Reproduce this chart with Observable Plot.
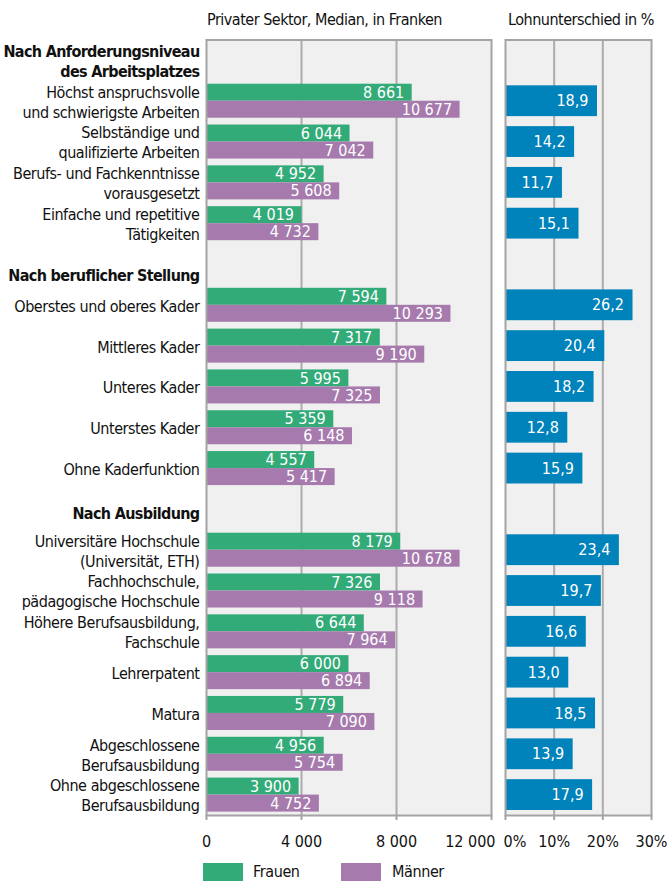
<!DOCTYPE html>
<html>
<head>
<meta charset="utf-8">
<script src="https://cdn.jsdelivr.net/npm/d3@7"></script>
<script src="https://cdn.jsdelivr.net/npm/@observablehq/plot@0.6"></script>
<style>
  html, body { margin: 0; padding: 0; background: #fff; }
  #root { position: relative; width: 668px; height: 881px; overflow: hidden;
    font-family: "DejaVu Sans Condensed", "DejaVu Sans", sans-serif; color: #111; }
  .title { position: absolute; top: 10px; font-size: 16px; line-height: 20px; white-space: nowrap; letter-spacing: -0.5px; }
  .plot { position: absolute; top: 0; }
  .sw { position: absolute; top: 863px; width: 40px; height: 18px; }
  .lg { position: absolute; top: 862px; font-size: 16px; line-height: 20px; letter-spacing: -0.4px; }
  .lab text { letter-spacing: -0.45px; }
  .hdr text { letter-spacing: -0.65px; }
</style>
</head>
<body>
<div id="root"></div>
<script>
// ---------- data ----------
const sections = ["Nach Anforderungsniveau\ndes Arbeitsplatzes", "Nach beruflicher Stellung", "Nach Ausbildung"];
const labels = [
  "Höchst anspruchsvolle\nund schwierigste Arbeiten",
  "Selbständige und\nqualifizierte Arbeiten",
  "Berufs- und Fachkenntnisse\nvorausgesetzt",
  "Einfache und repetitive\nTätigkeiten",
  "Oberstes und oberes Kader",
  "Mittleres Kader",
  "Unteres Kader",
  "Unterstes Kader",
  "Ohne Kaderfunktion",
  "Universitäre Hochschule\n(Universität, ETH)",
  "Fachhochschule,\npädagogische Hochschule",
  "Höhere Berufsausbildung,\nFachschule",
  "Lehrerpatent",
  "Matura",
  "Abgeschlossene\nBerufsausbildung",
  "Ohne abgeschlossene\nBerufsausbildung"
];
const sectionOf = [0,0,0,0, 1,1,1,1,1, 2,2,2,2,2,2,2];
const frauen = [8661, 6044, 4952, 4019, 7594, 7317, 5995, 5359, 4557, 8179, 7326, 6644, 6000, 5779, 4956, 3900];
const maenner = [10677, 7042, 5608, 4732, 10293, 9190, 7325, 6148, 5417, 10678, 9118, 7964, 6894, 7090, 5754, 4752];
const lohnunterschied = [18.9, 14.2, 11.7, 15.1, 26.2, 20.4, 18.2, 12.8, 15.9, 23.4, 19.7, 16.6, 13.0, 18.5, 13.9, 17.9];
const xTicksLeft = [0, 4000, 8000, 12000];
const xTicksRight = [0, 10, 20, 30];
const titleLeft = "Privater Sektor, Median, in Franken";
const titleRight = "Lohnunterschied in %";
const legendLabels = ["Frauen", "Männer"];

// ---------- derived tables ----------
const rows = labels.map((label, i) => ({label, f: frauen[i], m: maenner[i], gap: lohnunterschied[i], section: sectionOf[i]}));
const slots = [];
sections.forEach((s, si) => {
  slots.push("§" + si);
  rows.filter(r => r.section === si).forEach(r => slots.push(r.label));
});
const headers = sections.map((text, si) => ({key: "§" + si, text}));

// ---------- styling ----------
const GREEN = "#33ab78", PURPLE = "#a67aad", BLUE = "#0082ba";
const BG = "#eff0ef", GRID = "#acacac", FRAME = "#a4a4a4";
const FONT = '"DejaVu Sans Condensed", "DejaVu Sans", sans-serif';
const H = 855, TOP = 39.5, BOTTOM = 815;
const bw = (BOTTOM - TOP) / slots.length;
const fmtCHF = v => d3.format(",")(v).replace(/,/g, " ");
const fmtPct = v => d3.format(".1f")(v).replace(".", ",");
const headerDy = [0, 10, 3];

const yScale = {domain: slots, range: [TOP, BOTTOM], padding: 0, round: false, axis: null};
const style = {fontFamily: FONT, fontSize: "16px", color: "#111", background: "transparent", overflow: "visible"};

const root = document.getElementById("root");

// ---------- left plot ----------
const left = Plot.plot({
  width: 500, height: H,
  marginLeft: 206, marginRight: 9, marginTop: TOP, marginBottom: H - BOTTOM,
  style,
  x: {domain: [0, 12000], axis: null, round: false},
  y: yScale,
  marks: [
    Plot.frame({fill: BG}),
    Plot.ruleX(xTicksLeft.slice(1, -1), {stroke: GRID, strokeWidth: 2}),
    Plot.barX(rows, {x: "f", y: "label", fill: GREEN, insetTop: 3.4, insetBottom: bw / 2}),
    Plot.barX(rows, {x: "m", y: "label", fill: PURPLE, insetTop: bw / 2, insetBottom: 3.4}),
    Plot.frame({stroke: FRAME, strokeWidth: 2}),
    Plot.text(rows, {x: "f", y: "label", text: d => fmtCHF(d.f), textAnchor: "end", dx: -8, dy: -8.5, fill: "white"}),
    Plot.text(rows, {x: "m", y: "label", text: d => fmtCHF(d.m), textAnchor: "end", dx: -8, dy: 8.5, fill: "white"}),
    Plot.text(rows, {y: "label", text: "label", frameAnchor: "left", textAnchor: "end", dx: -7, lineHeight: 1.25, fill: "#111", className: "lab"}),
    ...headers.map((h, i) => Plot.text([h], {y: "key", text: "text", frameAnchor: "left", textAnchor: "end", dx: -7, dy: headerDy[i], lineHeight: 1.25, fontWeight: "bold", fill: "#111", className: "hdr"})),
    Plot.axisX(xTicksLeft, {tickSize: 5, stroke: FRAME, strokeWidth: 2, tickFormat: () => "", text: null, label: null}),
    Plot.axisX(xTicksLeft.slice(0, -1), {tickSize: 0, tickPadding: 20, tickFormat: fmtCHF, fill: "#111", label: null}),
    Plot.axisX(xTicksLeft.slice(-1), {tickSize: 0, tickPadding: 20, tickFormat: fmtCHF, textAnchor: "end", dx: 4, fill: "#111", label: null})
  ]
});
left.classList.add("plot");
left.style.left = "0px";
root.appendChild(left);

// ---------- right plot ----------
const right = Plot.plot({
  width: 171, height: H,
  marginLeft: 8, marginRight: 17, marginTop: TOP, marginBottom: H - BOTTOM,
  style,
  x: {domain: [0, 30], axis: null, round: false},
  y: yScale,
  marks: [
    Plot.frame({fill: BG}),
    Plot.ruleX(xTicksRight.slice(1, -1), {stroke: GRID, strokeWidth: 2}),
    Plot.barX(rows, {x: "gap", y: "label", fill: BLUE, insetTop: 5, insetBottom: 5}),
    Plot.frame({stroke: FRAME, strokeWidth: 2}),
    Plot.text(rows, {x: "gap", y: "label", text: d => fmtPct(d.gap), textAnchor: "end", dx: -9, fill: "white"}),
    Plot.axisX(xTicksRight, {tickSize: 5, stroke: FRAME, strokeWidth: 2, tickFormat: () => "", text: null, label: null}),
    Plot.axisX(xTicksRight.slice(0, 1), {tickSize: 0, tickPadding: 20, tickFormat: d => d + "%", textAnchor: "start", dx: -2, fill: "#111", label: null}),
    Plot.axisX(xTicksRight.slice(1), {tickSize: 0, tickPadding: 20, tickFormat: d => d + "%", fill: "#111", label: null})
  ]
});
right.classList.add("plot");
right.style.left = "497px";
root.appendChild(right);

// ---------- titles & legend ----------
function addDiv(cls, text, leftPx, extra) {
  const d = document.createElement("div");
  d.className = cls;
  if (text) d.textContent = text;
  d.style.left = leftPx + "px";
  if (extra) Object.assign(d.style, extra);
  root.appendChild(d);
}
addDiv("title", titleLeft, 207);
addDiv("title", titleRight, 508);
addDiv("sw", "", 203, {background: GREEN});
addDiv("lg", legendLabels[0], 253);
addDiv("sw", "", 341, {background: PURPLE});
addDiv("lg", legendLabels[1], 392);
</script>
</body>
</html>
